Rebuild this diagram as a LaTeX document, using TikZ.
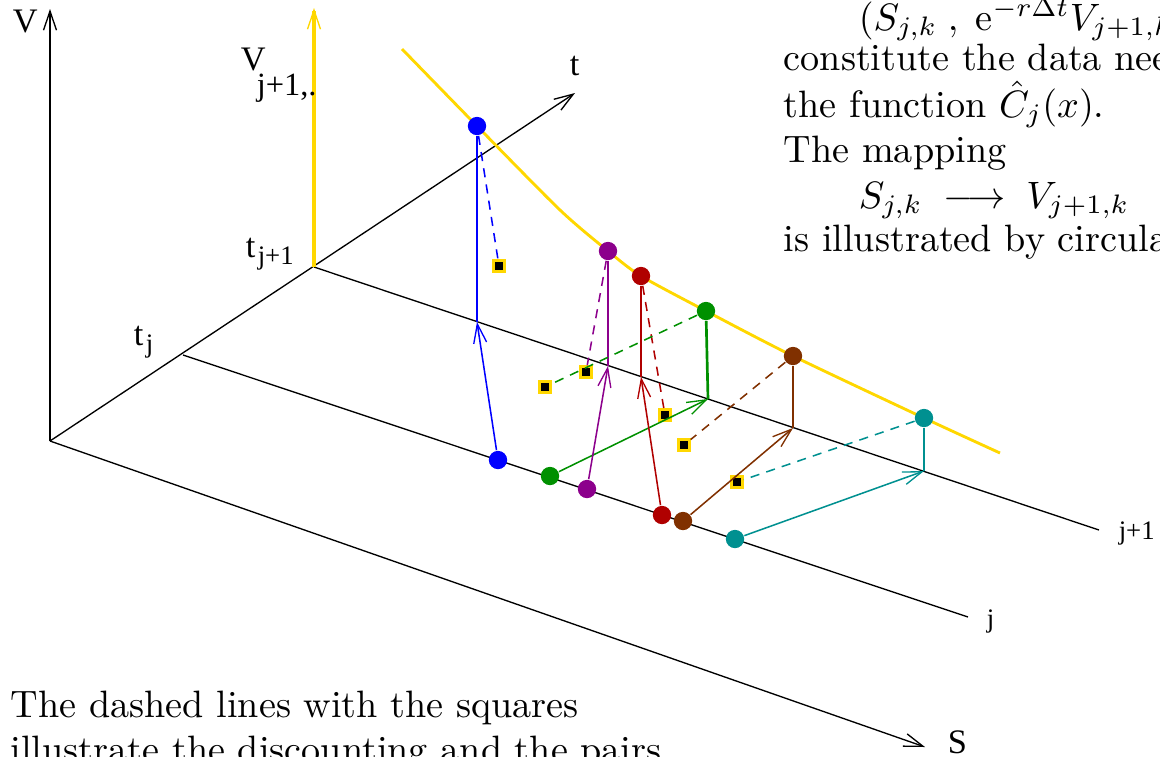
\documentclass[tikz,border=0pt]{standalone}
\usepackage{fontspec}
\newfontfamily\timesfont{LiberationSerif}[Extension=.ttf, UprightFont=*-Regular]
\usetikzlibrary{arrows.meta}
\definecolor{myyellow}{RGB}{255,215,0}
\definecolor{myblue}{RGB}{0,0,255}
\definecolor{mypurple}{RGB}{140,0,140}
\definecolor{myred}{RGB}{176,0,0}
\definecolor{mygreen}{RGB}{0,144,0}
\definecolor{mybrown}{RGB}{128,48,0}
\definecolor{myteal}{RGB}{0,144,144}
\begin{document}
\begin{tikzpicture}[x=0.262pt,y=-0.262pt,
  axis/.style={line width=0.35pt, draw=black},
  tip/.style={-{Straight Barb[length=5pt,width=3.4pt,line width=0.35pt]}},
  dot/.style={circle, fill=#1, inner sep=0pt, minimum size=4.8pt},
  sq/.style={rectangle, fill=black, draw=myyellow, line width=0.8pt, inner sep=0pt, minimum size=2.7pt},
  vline/.style={line width=0.7pt, draw=#1},
  aline/.style={line width=0.4pt, draw=#1, tip},
  dline/.style={line width=0.4pt, draw=#1, dash pattern=on 2.4pt off 1.9pt},
  big/.style={font=\timesfont\fontsize{9}{10}\selectfont, inner sep=0pt, anchor=base west},
  small/.style={font=\timesfont\fontsize{7}{8}\selectfont, inner sep=0pt, anchor=base west},
  mid/.style={font=\timesfont\fontsize{8.5}{9}\selectfont, inner sep=0pt, anchor=base west},
  txt/.style={inner sep=0pt, anchor=base west}]
\useasboundingbox (0,0) rectangle (1160,756);
\clip (0,0) rectangle (1160,756);

% axes
\coordinate (O) at (50,441);
\coordinate (Vend) at (50,9);
\coordinate (tend) at (575,93);
\coordinate (Send) at (925,747);
\coordinate (tj) at (183,355);
\coordinate (tj1) at (314,267);
\coordinate (jend) at (968,617);
\coordinate (j1end) at (1099,530);
\coordinate (Yend) at (314,8);

\draw[axis, tip] (O) -- (Vend);
\draw[axis, tip] (O) -- (tend);
\draw[axis, tip] (O) -- (Send);
\draw[axis] (tj) -- (jend);
\draw[axis] (tj1) -- (j1end);
\draw[line width=0.8pt, myyellow, tip] (tj1) -- (Yend);

% value curve
\draw[myyellow, line width=0.75pt] plot[smooth, tension=0.45] coordinates
  {(402,49) (477,126) (560,210) (608,251) (641,276) (706,311) (793,356) (924,418) (1000,453)};

% top points (values at t_{j+1})
\node[dot=myblue]   (bV) at (477,126) {};
\node[dot=mypurple] (pV) at (608,251) {};
\node[dot=myred]    (rV) at (641,276) {};
\node[dot=mygreen]  (gV) at (706,311) {};
\node[dot=mybrown]  (nV) at (793,356) {};
\node[dot=myteal]   (cV) at (924,418) {};

% feet on the j+1 line
\coordinate (bF) at (477,322);
\coordinate (pF) at (608,366);
\coordinate (rF) at (641,377);
\coordinate (gF) at (708,399);
\coordinate (nF) at (793,428);
\coordinate (cF) at (924,471);

% bottom points on the j line
\node[dot=myblue]   (bS) at (498,460) {};
\node[dot=mygreen]  (gS) at (550,476) {};
\node[dot=mypurple] (pS) at (587,489) {};
\node[dot=myred]    (rS) at (662,515) {};
\node[dot=mybrown]  (nS) at (683,521) {};
\node[dot=myteal]   (cS) at (735,539) {};

% squares (discounted values)
\node[sq] (bQ) at (499,266) {};
\node[sq] (gQ) at (545,387) {};
\node[sq] (pQ) at (586,372) {};
\node[sq] (rQ) at (665,415) {};
\node[sq] (nQ) at (684,445) {};
\node[sq] (cQ) at (737,482) {};

% mapping arrows
\draw[aline=myblue]   (bS) -- (bF);
\draw[aline=mygreen]  (gS) -- (gF);
\draw[aline=mypurple] (pS) -- (pF);
\draw[aline=myred]    (rS) -- (rF);
\draw[aline=mybrown]  (nS) -- (nF);
\draw[aline=myteal]   (cS) -- (cF);

% verticals
\draw[vline=myblue]   (bF) -- (bV);
\draw[vline=mypurple] (pF) -- (pV);
\draw[vline=myred]    (rF) -- (rV);
\draw[vline=mygreen]  (gF) -- (gV);
\draw[vline=mybrown]  (nF) -- (nV);
\draw[vline=myteal]   (cF) -- (cV);

% discounting (dashed)
\draw[dline=myblue]   (bV) -- (bQ);
\draw[dline=mypurple] (pV) -- (pQ);
\draw[dline=myred]    (rV) -- (rQ);
\draw[dline=mygreen]  (gV) -- (gQ);
\draw[dline=mybrown]  (nV) -- (nQ);
\draw[dline=myteal]   (cV) -- (cQ);

% labels
\node[big] (lV) at (12,32) {V};
\node[big] (lt) at (569,75) {t};
\node[big] (lS) at (947,753) {S};
\node[big] (lVj) at (240,70) {V};
\node[mid] (lVjs) at (256,95) {j+1,.};
\node[big] (ltj1) at (245,257) {t};
\node[small] (ltj1s) at (257,264) {j+1};
\node[big] (ltj) at (133,345) {t};
\node[small] (ltjs) at (145,352) {j};
\node[small] (lj) at (986,627) {j};
\node[small] (lj1) at (1118,539) {j+1};

% text
\node[txt] (r1) at (858,30) {$(S_{j,k}\;,\;\mathrm{e}^{-r\Delta t}V_{j+1,k})$};
\node[txt] (r2) at (783,70) {constitute the data needed};
\node[txt] (r3) at (783,117) {the function $\hat{C}_j(x)$.};
\node[txt] (r4) at (783,162) {The mapping};
\node[txt] (r5) at (858,208) {$S_{j,k}\;\longrightarrow\;V_{j+1,k}$};
\node[txt] (r6) at (783,251) {is illustrated by circular};
\node[txt] (b1) at (10,717) {The dashed lines with the squares};
\node[txt] (b2) at (10,762) {illustrate the discounting and the pairs};
\end{tikzpicture}
\end{document}
